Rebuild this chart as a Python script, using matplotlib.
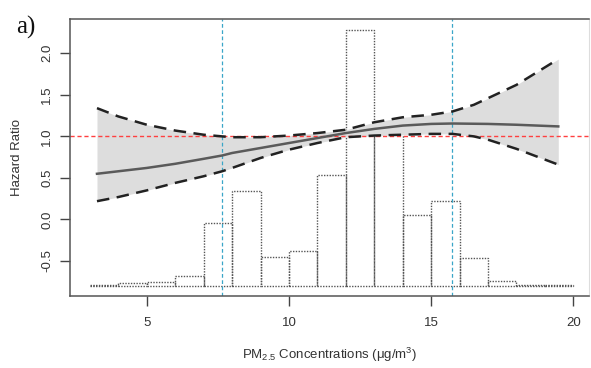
import matplotlib
matplotlib.use("Agg")
import matplotlib.pyplot as plt

plt.rcParams['font.family'] = ['Liberation Sans', 'DejaVu Sans']
plt.rcParams['mathtext.default'] = 'regular'

# spline estimate of hazard ratio with 95% CI
pm_x = [3.25, 4, 5, 6, 7, 7.65, 8, 9, 10, 11, 12, 13, 14, 15, 15.75, 16.5, 17, 18, 19.47]
hr = [0.55, 0.58, 0.62, 0.67, 0.73, 0.77, 0.80, 0.86, 0.92, 0.98, 1.04, 1.09, 1.13, 1.15,
      1.155, 1.152, 1.15, 1.14, 1.12]
hr_upper = [1.34, 1.24, 1.14, 1.07, 1.02, 1.00, 0.99, 0.99, 1.01, 1.04, 1.08, 1.17, 1.23,
            1.26, 1.30, 1.38, 1.46, 1.62, 1.93]
hr_lower = [0.22, 0.27, 0.35, 0.44, 0.52, 0.58, 0.62, 0.74, 0.84, 0.92, 0.99, 1.01, 1.02,
            1.03, 1.03, 1.00, 0.96, 0.85, 0.66]

# distribution of exposure (percent of subjects per 1 ug/m3 bin)
bin_left = [3, 4, 5, 6, 7, 8, 9, 10, 11, 12, 13, 14, 15, 16, 17, 18, 19]
bin_pct = [0.05, 0.3, 0.4, 1.0, 6.5, 9.9, 3.0, 3.6, 11.5, 26.7, 17.1, 7.4, 8.8, 2.9, 0.5, 0.1, 0.05]

# reference lines: HR = 1 and 10th/90th percentiles
hr_ref = 1.0
pct_lines = [7.65, 15.75]

fig = plt.figure(figsize=(5.91, 3.68), dpi=100)
ax = fig.add_axes([0.1184, 0.1957, 0.8782, 0.7527])

# histogram on its own hidden scale
axh = ax.twinx()
axh.bar(bin_left, bin_pct, width=1, align='edge', fill=False, edgecolor='#555555',
        linestyle=(0, (1, 1)), linewidth=1.0)
axh.set_ylim(-1.063, 27.8)
axh.set_yticks([])
for s in axh.spines.values():
    s.set_visible(False)
ax.set_zorder(axh.get_zorder() + 1)
ax.patch.set_visible(False)

ax.fill_between(pm_x, hr_lower, hr_upper, color='#dddddd', linewidth=0, zorder=1)
ax.plot(pm_x, hr, color='#5a5a5a', linewidth=1.8, zorder=3)
ax.plot(pm_x, hr_upper, color='#222222', linewidth=1.8, dashes=(5, 3), zorder=3)
ax.plot(pm_x, hr_lower, color='#222222', linewidth=1.8, dashes=(5, 3), zorder=3)

ax.axhline(hr_ref, color='#ff4040', linewidth=1.0, dashes=(3, 2), zorder=2)
for v in pct_lines:
    ax.axvline(v, color='#3aa6c8', linewidth=0.9, dashes=(3, 2), zorder=2)

ax.set_xlim(2.30, 20.55)
ax.set_ylim(-0.921, 2.413)
ax.set_xticks([5, 10, 15, 20])
ax.set_yticks([-0.5, 0.0, 0.5, 1.0, 1.5, 2.0])
ax.set_yticklabels(['-0.5', '0.0', '0.5', '1.0', '1.5', '2.0'], rotation=90, va='center')
ax.tick_params(axis='both', length=7, width=1, color='#444444', labelcolor='#333333',
               labelsize=9.5)
ax.tick_params(axis='x', pad=8)
ax.tick_params(axis='y', pad=5)
for side in ['left', 'bottom', 'top']:
    ax.spines[side].set_color('#555555')
    ax.spines[side].set_linewidth(1.1)
ax.spines['right'].set_color('#dddddd')

ax.set_ylabel('Hazard Ratio', fontsize=9.5, color='#333333', labelpad=13)
ax.set_xlabel(r'PM$_{2.5}$ Concentrations ($\mu$g/m$^3$)', fontsize=9.5,
              color='#333333', labelpad=12)

fig.text(0.027, 0.908, 'a)', fontsize=18, family='Liberation Serif', color='#111111')

fig.savefig('out.png', dpi=100)
